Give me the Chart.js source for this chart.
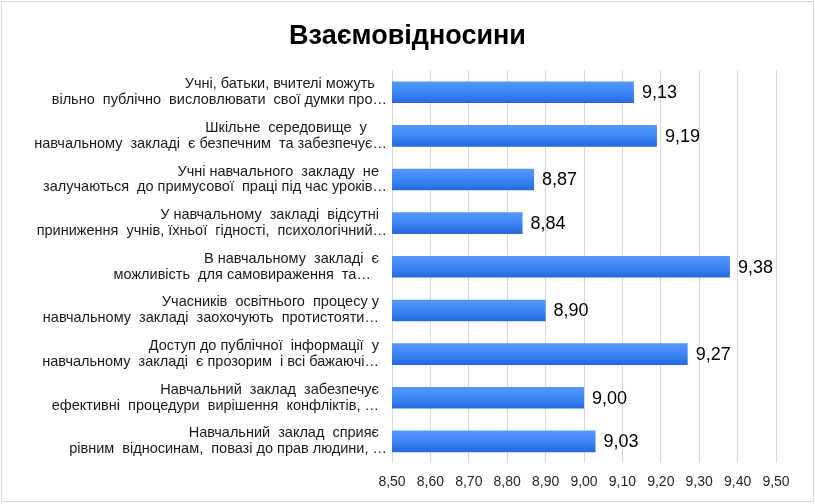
<!DOCTYPE html>
<html>
<head>
<meta charset="utf-8">
<script src="https://cdn.jsdelivr.net/npm/chart.js@4/dist/chart.umd.min.js"></script>
<style>
  body { margin: 0; background: #fff; }
</style>
</head>
<body>
<canvas id="relChart" width="815" height="504"></canvas>
<script>
var titleText = "Взаємовідносини";

var categories = [
    ["Учні, батьки, вчителі можуть   ", "вільно  публічно  висловлювати  свої думки про…"],
    ["Шкільне  середовище  у     ", "навчальному  закладі  є безпечним  та забезпечує…"],
    ["Учні навчального  закладу  не  ", "залучаються  до примусової  праці під час уроків…"],
    ["У навчальному  закладі  відсутні  ", "приниження  учнів, їхньої  гідності,  психологічний…"],
    ["В навчальному  закладі  є  ", "можливість  для самовираження  та…    "],
    ["Учасників  освітнього  процесу у  ", "навчальному  закладі  заохочують  протистояти…  "],
    ["Доступ до публічної  інформації  у  ", "навчальному  закладі  є прозорим  і всі бажаючі…  "],
    ["Навчальний  заклад  забезпечує  ", "ефективні  процедури  вирішення  конфліктів, …  "],
    ["Навчальний  заклад  сприяє  ", "рівним  відносинам,  повазі до прав людини, …"]
];

var scores = [9.13, 9.19, 8.87, 8.84, 9.38, 8.90, 9.27, 9.00, 9.03];

var xMin = 8.5, xMax = 9.5, xStep = 0.1;

function fmt(v) {
    return Number(v).toFixed(2).replace(".", ",");
}

// gradient per bar, built from the y scale
function barFill(ctx) {
    var chart = ctx.chart;
    var y = chart.scales.y;
    if (!y || !chart.chartArea) return "#3d85f2";
    var c = y.getPixelForValue(ctx.dataIndex);
    var h = (y.bottom - y.top) / categories.length * 0.5;
    var g = chart.ctx.createLinearGradient(0, c - h / 2, 0, c + h / 2);
    g.addColorStop(0, "#5597fb");
    g.addColorStop(0.5, "#3e86f7");
    g.addColorStop(1, "#2469dc");
    return g;
}

var frame = {
    id: "frame",
    afterLayout: function (chart) {
        // centre the title on the whole canvas, not on the padded box
        if (chart.titleBlock) {
            chart.titleBlock.left = 0;
            chart.titleBlock.right = chart.width;
        }
    },
    beforeDraw: function (chart) {
        var c = chart.ctx;
        c.save();
        c.fillStyle = "#fff";
        c.fillRect(0, 0, chart.width, chart.height);
        c.strokeStyle = "#d9d9d9";
        c.lineWidth = 1;
        c.strokeRect(1.5, 1.5, chart.width - 3, chart.height - 4);
        c.restore();
    }
};

var valueLabels = {
    id: "valueLabels",
    afterDatasetsDraw: function (chart) {
        var c = chart.ctx;
        var meta = chart.getDatasetMeta(0);
        c.save();
        c.font = "18px 'Liberation Sans', Arial, sans-serif";
        c.fillStyle = "#000";
        c.textBaseline = "middle";
        c.textAlign = "left";
        meta.data.forEach(function (bar, i) {
            c.fillText(fmt(scores[i]), bar.x + 8, bar.y + 1);
        });
        c.restore();
    }
};

Chart.defaults.font.family = "'Liberation Sans', Arial, sans-serif";
Chart.defaults.color = "#000";

chart = new Chart("relChart", {
    type: "bar",
    data: {
        labels: categories,
        datasets: [{
            data: scores,
            backgroundColor: barFill,
            borderWidth: 0,
            barPercentage: 0.55,
            categoryPercentage: 0.9
        }]
    },
    plugins: [frame, valueLabels],
    options: {
        indexAxis: "y",
        responsive: false,
        animation: false,
        layout: { padding: { left: 0, right: 39, top: 0, bottom: 2 } },
        plugins: {
            legend: { display: false },
            tooltip: { enabled: false },
            title: {
                display: true,
                text: titleText,
                color: "#000",
                font: { size: 27, weight: "bold" },
                padding: { top: 20, bottom: 18 }
            }
        },
        scales: {
            x: {
                min: xMin,
                max: xMax,
                ticks: {
                    stepSize: xStep,
                    padding: 11,
                    color: "#262626",
                    font: { size: 14 },
                    callback: function (v) { return fmt(v); }
                },
                grid: { color: "#d9d9d9", drawTicks: false },
                border: { display: false }
            },
            y: {
                afterFit: function (scale) { scale.width = 392; },
                ticks: {
                    padding: 5,
                    color: "#1a1a1a",
                    font: { size: 14.5, lineHeight: 1.1 }
                },
                grid: { display: false, drawTicks: false },
                border: { display: false }
            }
        }
    }
});
</script>
</body>
</html>
